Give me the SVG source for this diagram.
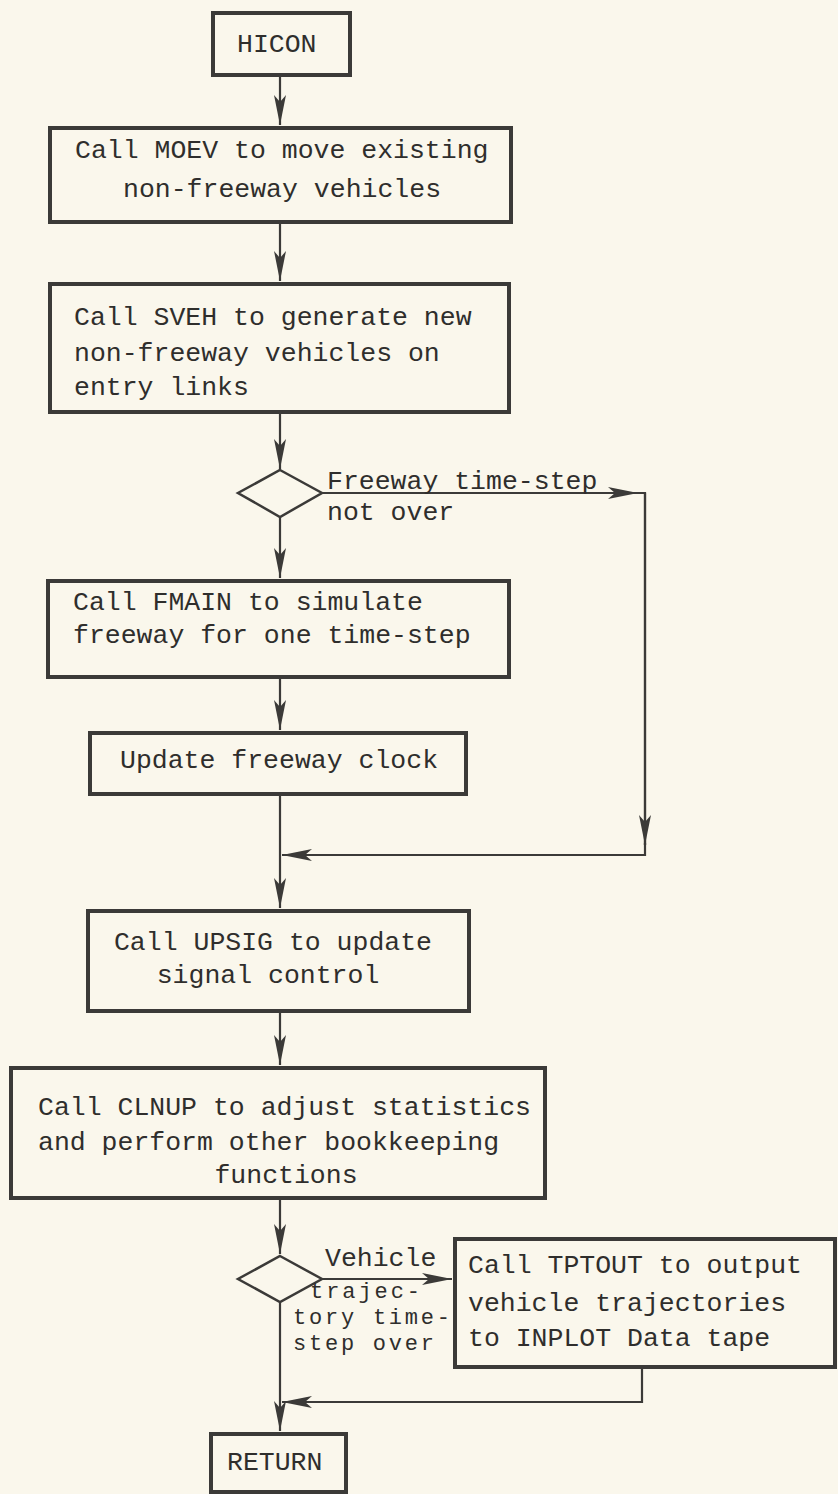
<svg xmlns="http://www.w3.org/2000/svg" width="838" height="1494" viewBox="0 0 838 1494">
<defs>
<style>
.box{fill:none;stroke:#3b3a38;stroke-width:4}
.dia{fill:none;stroke:#3b3a38;stroke-width:2.5;stroke-linejoin:miter}
.ln{fill:none;stroke:#3b3a38;stroke-width:2.2}
.t{font-family:"Liberation Mono","Courier New",monospace;font-size:26.5px;fill:#2f2e2c}
.s{font-size:22px}
.c{text-anchor:middle}
</style>
<marker id="ah" viewBox="0 0 30 12" refX="30" refY="6" markerWidth="30" markerHeight="12" markerUnits="userSpaceOnUse" orient="auto">
<path d="M0,0 L30,6 L0,12 L7,6 Z" fill="#3b3a38"/>
</marker>
</defs>
<rect width="838" height="1494" fill="#faf7ec"/>
<g id="connectors">
<path class="ln" d="M280,76 V125" marker-end="url(#ah)"/>
<path class="ln" d="M280,222 V281" marker-end="url(#ah)"/>
<path class="ln" d="M280,413 V469" marker-end="url(#ah)"/>
<path class="ln" d="M280,517 V578" marker-end="url(#ah)"/>
<path class="ln" d="M322,493 H638" marker-end="url(#ah)"/>
<path class="ln" d="M636,493 H645 V845"/>
<path class="ln" d="M645,493 V845" marker-end="url(#ah)"/>
<path class="ln" d="M645,843 V855 H282" marker-end="url(#ah)"/>
<path class="ln" d="M280,677 V730" marker-end="url(#ah)"/>
<path class="ln" d="M280,794 V908" marker-end="url(#ah)"/>
<path class="ln" d="M280,1011 V1065" marker-end="url(#ah)"/>
<path class="ln" d="M280,1198 V1254" marker-end="url(#ah)"/>
<path class="ln" d="M322,1279 H452" marker-end="url(#ah)"/>
<path class="ln" d="M642,1367 V1402 H282" marker-end="url(#ah)"/>
<path class="ln" d="M280,1302 V1431" marker-end="url(#ah)"/>
</g>
<g id="hicon">
<rect class="box" x="213" y="13" width="137" height="62"/>
<text class="t" x="237" y="52">HICON</text>
</g>
<g id="moev">
<rect class="box" x="50" y="128" width="461" height="94"/>
<text class="t" x="75" y="158">Call MOEV to move existing</text>
<text class="t" x="123" y="197">non-freeway vehicles</text>
</g>
<g id="sveh">
<rect class="box" x="50" y="284" width="459" height="128"/>
<text class="t" x="74" y="325">Call SVEH to generate new</text>
<text class="t" x="74" y="361">non-freeway vehicles on</text>
<text class="t" x="74" y="395">entry links</text>
</g>
<g id="decision1">
<path class="dia" d="M280,470 L322,493 L280,517 L238,493 Z"/>
<text class="t" x="327" y="489">Freeway time-step</text>
<text class="t" x="327" y="520">not over</text>
</g>
<g id="fmain">
<rect class="box" x="48" y="581" width="461" height="96"/>
<text class="t" x="73" y="610">Call FMAIN to simulate</text>
<text class="t" x="73" y="643">freeway for one time-step</text>
</g>
<g id="clock">
<rect class="box" x="90" y="733" width="376" height="61"/>
<text class="t" x="120" y="768">Update freeway clock</text>
</g>
<g id="upsig">
<rect class="box" x="88" y="911" width="381" height="100"/>
<text class="t c" x="273" y="950">Call UPSIG to update</text>
<text class="t c" x="268" y="983">signal control</text>
</g>
<g id="clnup">
<rect class="box" x="11" y="1068" width="534" height="130"/>
<text class="t" x="38" y="1115">Call CLNUP to adjust statistics</text>
<text class="t" x="38" y="1150">and perform other bookkeeping</text>
<text class="t c" x="286" y="1183">functions</text>
</g>
<g id="decision2">
<path class="dia" d="M280,1256 L322,1279 L280,1302 L238,1279 Z"/>
<text class="t" x="325" y="1266">Vehicle</text>
<text class="t s" x="310" y="1298" textLength="110" lengthAdjust="spacing">trajec-</text>
<text class="t s" x="293" y="1324" textLength="157" lengthAdjust="spacing">tory time-</text>
<text class="t s" x="293" y="1350" textLength="141" lengthAdjust="spacing">step over</text>
</g>
<g id="tptout">
<rect class="box" x="455" y="1239" width="380" height="128"/>
<text class="t" x="468" y="1273">Call TPTOUT to output</text>
<text class="t" x="468" y="1311">vehicle trajectories</text>
<text class="t" x="468" y="1346">to INPLOT Data tape</text>
</g>
<g id="return">
<rect class="box" x="211" y="1434" width="135" height="58"/>
<text class="t" x="227" y="1470">RETURN</text>
</g>
</svg>
